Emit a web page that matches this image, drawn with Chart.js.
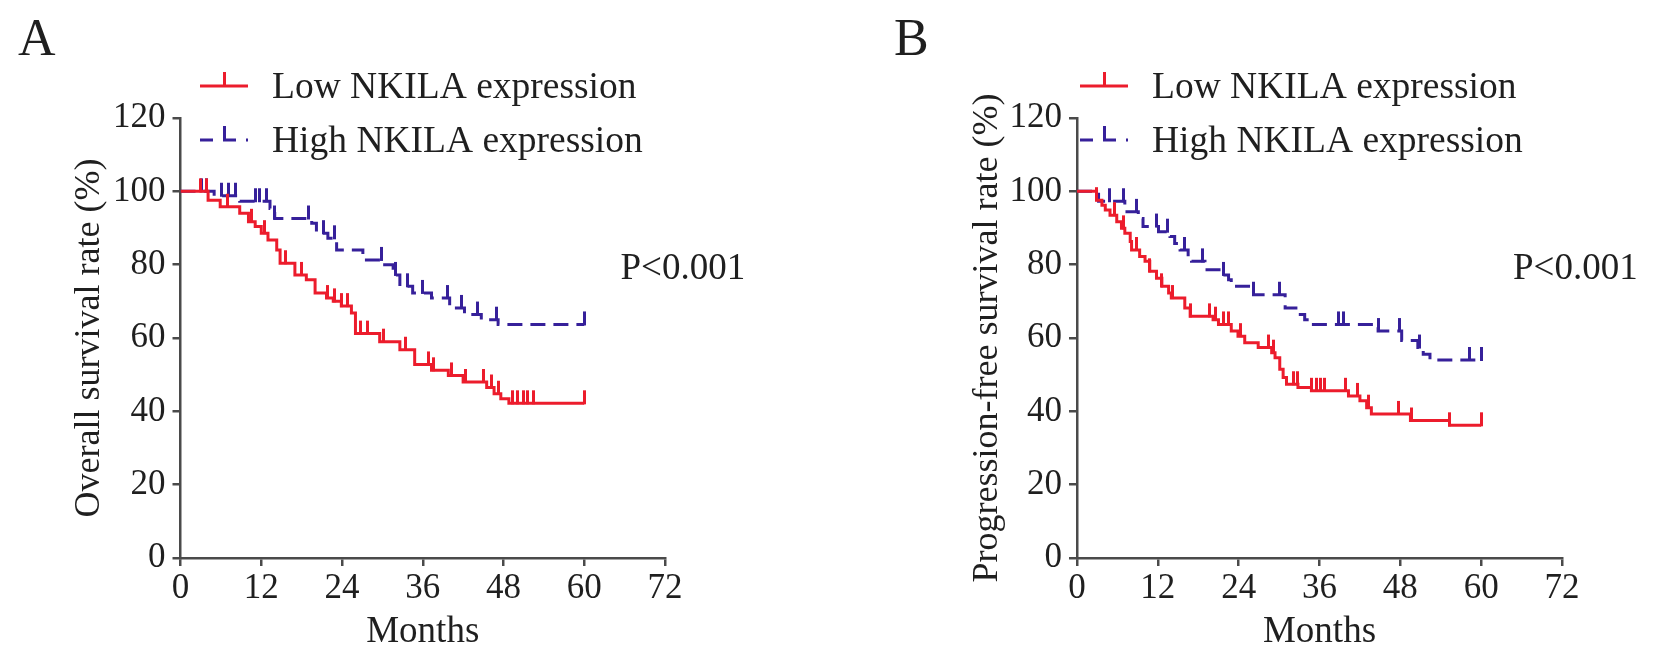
<!DOCTYPE html>
<html>
<head>
<meta charset="utf-8">
<script src="https://cdn.jsdelivr.net/npm/chart.js@4.4.0/dist/chart.umd.min.js"></script>
<style>
  html, body { margin: 0; padding: 0; background: #fff; }
  #wrap { position: relative; width: 1654px; height: 662px; overflow: hidden; }
  .panel { position: absolute; top: 0; width: 827px; height: 662px; }
  #pa { left: 0; }
  #pb { left: 827px; }
</style>
</head>
<body>
<div id="wrap">
  <div class="panel" id="pa"><canvas id="chart-a" width="827" height="662"></canvas></div>
  <div class="panel" id="pb"><canvas id="chart-b" width="827" height="662"></canvas></div>
</div>
<script>
// ─── Data ───────────────────────────────────────────────────
const seriesLabels = ['Low NKILA expression', 'High NKILA expression'];
const xTicks = [0, 12, 24, 36, 48, 60, 72];
const yTicks = [0, 20, 40, 60, 80, 100, 120];
const pText = 'P<0.001';

// Panel A: overall survival
const lowATimes = [0, 4.1, 5.9, 8.8, 10.1, 11.1, 12.0, 13.0, 14.3, 14.8, 17.0, 18.7, 20.0, 21.7, 22.7, 23.9, 25.4, 26.0, 29.6, 32.6, 34.8, 37.3, 39.8, 42.0, 45.5, 46.6, 47.6, 48.8, 60];
const lowASurv = [100, 97.6, 95.8, 94.0, 91.7, 90.4, 88.6, 86.7, 84.0, 80.4, 77.2, 75.9, 72.3, 70.9, 70.0, 68.7, 66.8, 61.2, 59.0, 56.8, 52.8, 51.2, 49.8, 48.0, 46.5, 44.8, 43.4, 42.2, 42.2];
const lowACensor = [3.0, 3.9, 7.0, 10.6, 12.5, 15.6, 18.0, 21.9, 22.9, 23.9, 24.8, 26.8, 27.8, 30.2, 33.5, 36.8, 37.6, 40.2, 42.3, 45.0, 46.2, 47.2, 49.4, 50.1, 50.9, 51.6, 52.4, 60];

const highATimes = [0, 5.0, 8.8, 13.3, 14.0, 19.5, 20.2, 21.9, 23.2, 27.1, 30.1, 31.6, 32.6, 34.5, 37.3, 40.0, 42.2, 44.7, 47.2, 60];
const highASurv = [100, 98.8, 97.3, 95.3, 92.6, 91.3, 88.6, 87.2, 84.0, 81.3, 80.0, 77.2, 74.1, 72.3, 70.9, 68.2, 66.4, 65.0, 63.7, 63.7];
const highACensor = [3.1, 3.9, 6.1, 7.1, 8.1, 11.1, 11.8, 12.8, 14.0, 19.0, 21.2, 22.9, 29.8, 32.0, 33.8, 36.0, 39.7, 41.7, 44.2, 46.9, 60];

// Panel B: progression-free survival
const lowBTimes = [0, 2.9, 3.7, 4.2, 4.9, 5.9, 6.6, 7.1, 7.9, 8.1, 9.3, 10.1, 10.8, 11.8, 12.6, 13.6, 14.0, 16.0, 16.8, 20.2, 21.0, 22.9, 23.9, 24.9, 26.9, 28.9, 29.4, 30.1, 30.6, 31.1, 32.8, 34.8, 40.3, 42.0, 43.0, 43.7, 49.5, 55.3, 60];
const lowBSurv = [100, 97.6, 96.2, 94.9, 93.5, 91.7, 89.9, 88.6, 86.3, 84.0, 82.2, 80.9, 78.2, 76.3, 74.1, 72.3, 70.9, 68.2, 65.9, 65.0, 63.7, 61.9, 60.5, 58.7, 57.4, 56.0, 54.6, 51.5, 49.2, 47.4, 46.5, 45.6, 44.2, 42.9, 41.0, 39.3, 37.5, 36.2, 36.2];
const lowBCensor = [2.9, 5.6, 6.9, 8.9, 10.8, 12.6, 14.2, 16.8, 19.7, 20.5, 21.7, 22.5, 24.2, 28.4, 29.1, 32.2, 32.7, 34.8, 35.5, 36.2, 36.8, 39.8, 41.7, 43.3, 47.7, 49.7, 55.3, 60];

const highBTimes = [0, 3.2, 7.1, 9.1, 9.8, 12.1, 13.8, 14.5, 15.3, 16.5, 17.0, 19.0, 21.7, 22.5, 22.9, 25.7, 26.2, 30.9, 32.8, 33.8, 34.8, 44.7, 48.2, 50.6, 51.4, 52.4, 60];
const highBSurv = [100, 97.3, 94.4, 92.6, 90.4, 89.0, 87.7, 85.8, 84.0, 82.2, 80.9, 78.6, 77.2, 75.9, 74.1, 73.2, 71.8, 68.2, 66.4, 65.0, 63.7, 61.9, 59.3, 57.4, 55.6, 54.0, 54.0];
const highBCensor = [4.8, 6.9, 8.9, 11.8, 13.5, 15.9, 18.7, 21.7, 26.2, 30.1, 38.8, 39.5, 44.7, 47.9, 50.9, 58.3, 60];

// ─── Styling ────────────────────────────────────────────────
const serif = '"Liberation Serif", "Times New Roman", serif';
const textColor = '#1f1f1f';
const axisColor = '#4a4a4a';
const lowColor = '#EC1C2C';
const highColor = '#36209A';
const highDash = [15, 8];

// vertical censor tick, drawn upward from the curve
function censorMark(color) {
    const c = document.createElement('canvas');
    c.width = 3;
    c.height = 28;
    const g = c.getContext('2d');
    g.fillStyle = color;
    g.fillRect(0, 1, 3, 14);
    return c;
}

function survivalAt(times, surv, t) {
    let s = surv[0];
    for (let i = 0; i < times.length; i++) {
        if (times[i] <= t) s = surv[i];
    }
    return s;
}

function kmDatasets(times, surv, censor, color, dash, label) {
    return [
        {
            label: label,
            data: times.map((t, i) => ({ x: t, y: surv[i] })),
            borderColor: color,
            borderWidth: 3,
            borderDash: dash,
            stepped: true,
            pointRadius: 0,
            fill: false
        },
        {
            label: label + ' censored',
            data: censor.map(t => ({ x: t, y: survivalAt(times, surv, t) })),
            showLine: false,
            pointStyle: censorMark(color),
            pointRadius: 3,
            borderColor: color,
            backgroundColor: color
        }
    ];
}

// panel letter, legend and p-value
const panelExtras = {
    id: 'panelExtras',
    afterDraw(chart, args, o) {
        const ctx = chart.ctx;
        const area = chart.chartArea;
        ctx.save();
        ctx.fillStyle = textColor;
        ctx.textAlign = 'left';
        ctx.textBaseline = 'alphabetic';
        ctx.font = '52px ' + serif;
        ctx.fillText(o.letter, o.letterX, 55);

        const colors = [lowColor, highColor];
        const dashes = [[], [13, 10]];
        const rows = [86, 140];
        ctx.lineWidth = 3;
        seriesLabels.forEach((label, i) => {
            const y = rows[i];
            ctx.strokeStyle = colors[i];
            ctx.setLineDash(dashes[i]);
            ctx.beginPath();
            ctx.moveTo(o.legendX, y);
            ctx.lineTo(o.legendX + 48, y);
            ctx.stroke();
            ctx.setLineDash([]);
            ctx.fillStyle = colors[i];
            ctx.fillRect(o.legendX + 23, y - 14, 3, 14);
            ctx.fillStyle = textColor;
            ctx.font = '37.5px ' + serif;
            ctx.fillText(label, o.legendX + 72, y + 12);
        });

        ctx.font = '37px ' + serif;
        ctx.fillText(pText, area.left + o.pDx, o.pY);
        ctx.restore();
    }
};

function makeChart(canvasId, yTitle, datasets, box) {
    return new Chart(document.getElementById(canvasId), {
        type: 'line',
        data: { datasets },
        plugins: [panelExtras],
        options: {
            responsive: false,
            animation: false,
            layout: { padding: { left: 0, top: 118, right: box.padRight, bottom: 0 } },
            plugins: {
                legend: { display: false },
                tooltip: { enabled: false },
                panelExtras: { letter: box.letter, letterX: box.letterX, legendX: box.legendX, pDx: box.pDx, pY: box.pY }
            },
            scales: {
                x: {
                    type: 'linear',
                    min: 0,
                    max: 72,
                    afterBuildTicks: s => { s.ticks = xTicks.map(v => ({ value: v })); },
                    afterFit: s => { s.height = 104; },
                    grid: { drawOnChartArea: false, drawTicks: true, tickLength: 8, color: axisColor, lineWidth: 2.5 },
                    border: { display: true, color: axisColor, width: 2.5 },
                    ticks: { color: textColor, padding: 2, font: { family: serif, size: 35 } },
                    title: { display: true, text: 'Months', color: textColor, padding: { top: 0, bottom: 8 }, font: { family: serif, size: 37 } }
                },
                y: {
                    type: 'linear',
                    min: 0,
                    max: 120,
                    afterBuildTicks: s => { s.ticks = yTicks.map(v => ({ value: v })); },
                    afterFit: s => { s.width = box.yWidth; },
                    grid: { drawOnChartArea: false, drawTicks: true, tickLength: 8, color: axisColor, lineWidth: 2.5 },
                    border: { display: true, color: axisColor, width: 2.5 },
                    ticks: { color: textColor, padding: 7, font: { family: serif, size: 35 } },
                    title: { display: true, text: yTitle, color: textColor, padding: { top: box.yTitlePad, bottom: 0 }, font: { family: serif, size: 36 } }
                }
            }
        }
    });
}

makeChart('chart-a', 'Overall survival rate (%)',
    [...kmDatasets(lowATimes, lowASurv, lowACensor, lowColor, [], seriesLabels[0]),
     ...kmDatasets(highATimes, highASurv, highACensor, highColor, highDash, seriesLabels[1])],
    { yWidth: 180.5, padRight: 162, yTitlePad: 68, letter: 'A', letterX: 18, legendX: 200, pDx: 440, pY: 279 });

makeChart('chart-b', 'Progression-free survival rate (%)',
    [...kmDatasets(lowBTimes, lowBSurv, lowBCensor, lowColor, [], seriesLabels[0]),
     ...kmDatasets(highBTimes, highBSurv, highBCensor, highColor, highDash, seriesLabels[1])],
    { yWidth: 250, padRight: 92, yTitlePad: 139, letter: 'B', letterX: 67, legendX: 253, pDx: 436, pY: 279 });
</script>
</body>
</html>
